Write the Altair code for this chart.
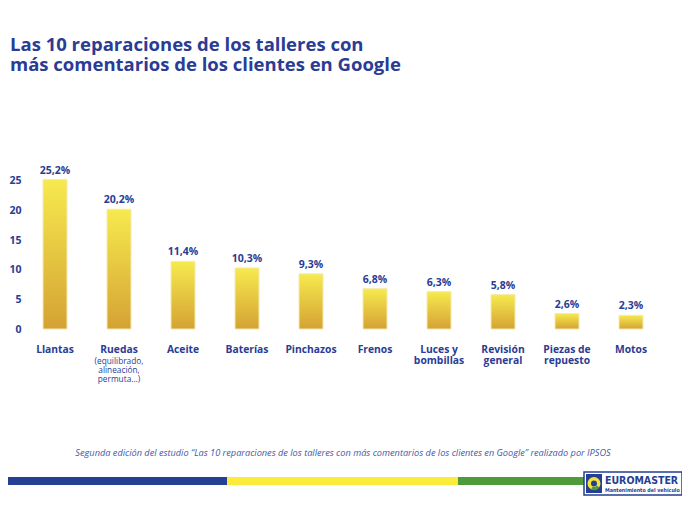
import altair as alt
import pandas as pd

# ---- data ----
categories = ["Llantas", "Ruedas", "Aceite", "Baterías", "Pinchazos", "Frenos",
              "Luces y|bombillas", "Revisión|general", "Piezas de|repuesto", "Motos"]
values = [25.2, 20.2, 11.4, 10.3, 9.3, 6.8, 6.3, 5.8, 2.6, 2.3]
y_ticks = [0, 5, 10, 15, 20, 25]
ruedas_note = "(equilibrado,|alineación,|permuta...)"
title_lines = ["Las 10 reparaciones de los talleres con",
               "más comentarios de los clientes en Google"]
footnote = ("Segunda edición del estudio \u201cLas 10 reparaciones de los talleres con más "
            "comentarios de los clientes en Google\u201d realizado por IPSOS")
logo_main = "EUROMASTER"
logo_sub = "Mantenimiento del vehículo"

labels = [f"{v:.1f}".replace(".", ",") + "%" for v in values]
df = pd.DataFrame({"cat": categories, "val": values, "lab": labels})
one = pd.DataFrame({"k": [0]})

W, H = 640, 166
BLUE = "#2a3c94"
FONT = "Open Sans"

x_enc = alt.X("cat:N", sort=None, title=None,
              scale=alt.Scale(paddingOuter=0, paddingInner=0),
              axis=alt.Axis(labelExpr="split(datum.label, '|')", labelAngle=0,
                            labelFontSize=10.3, labelFontWeight="bold", labelColor=BLUE,
                            labelFont=FONT, labelLineHeight=11.3, labelPadding=15,
                            labelOverlap=False, domain=False, ticks=False,
                            labelBaseline="top"))
y_enc = alt.Y("val:Q", title=None,
              scale=alt.Scale(domain=[0, 28], nice=False),
              axis=alt.Axis(values=y_ticks, tickCount=6, grid=False, domain=False,
                            ticks=False, labelOverlap=False, labelFontSize=10.5,
                            labelFontWeight="bold", labelColor=BLUE, labelFont=FONT,
                            labelPadding=2))

grad = alt.Gradient(gradient="linear",
                    stops=[alt.GradientStop(color="#f6ea4e", offset=0),
                           alt.GradientStop(color="#d5a234", offset=1)],
                    x1=0, x2=0, y1=0, y2=1)

bars = alt.Chart(df).mark_bar(size=24, color=grad, stroke="#f5eab0",
                              strokeWidth=1).encode(x=x_enc, y=y_enc)

bar_labels = alt.Chart(df).mark_text(baseline="bottom", dy=-4, fontSize=10.5,
                                     fontWeight="bold", color=BLUE, font=FONT).encode(
    x=x_enc, y=y_enc, text="lab:N")

note = alt.Chart(df[df["cat"] == "Ruedas"]).mark_text(
    baseline="top", lineBreak="|", lineHeight=9, fontSize=8.3, color=BLUE, font=FONT
).encode(x=x_enc, y=alt.value(H + 28), text=alt.value(ruedas_note))

title = alt.Chart(one).mark_text(align="left", baseline="alphabetic", fontSize=18.5,
                                 lineHeight=20, fontWeight="bold", color=BLUE, font=FONT,
                                 text="|".join(title_lines), lineBreak="|"
                                 ).encode(x=alt.value(-13), y=alt.value(-112))

foot = alt.Chart(one).mark_text(align="center", baseline="middle", fontSize=9.2,
                                fontStyle="italic", color="#4158a8", font=FONT, text=footnote
                                ).encode(x=alt.value(W / 2), y=alt.value(290))

stripe_blue = alt.Chart(one).mark_rect(color="#243f93").encode(
    x=alt.value(-15), x2=alt.value(204), y=alt.value(314), y2=alt.value(322))
stripe_yellow = alt.Chart(one).mark_rect(color="#fbec3a").encode(
    x=alt.value(204), x2=alt.value(435), y=alt.value(314), y2=alt.value(322))
stripe_green = alt.Chart(one).mark_rect(color="#4f9a3a").encode(
    x=alt.value(435), x2=alt.value(659), y=alt.value(314), y2=alt.value(322))

logo_box = alt.Chart(one).mark_rect(fill="white", stroke="#243f93", strokeWidth=1.5).encode(
    x=alt.value(561), x2=alt.value(659), y=alt.value(309), y2=alt.value(332))
logo_sq = alt.Chart(one).mark_rect(color="#243f93").encode(
    x=alt.value(563), x2=alt.value(579), y=alt.value(311), y2=alt.value(330))
logo_ring = alt.Chart(one).mark_point(filled=False, shape="circle", size=90, strokeWidth=3.5,
                                      color="#f4e23a", opacity=1).encode(
    x=alt.value(571), y=alt.value(320.5))
logo_green = alt.Chart(one).mark_arc(color="#4f9a3a", radius=6.5, radius2=3.5,
                                     theta=2.2, theta2=3.6).encode(
    x=alt.value(571), y=alt.value(320.5))
logo_t1 = alt.Chart(one).mark_text(align="left", baseline="alphabetic", fontSize=10.5,
                                   fontWeight="bold", color="#243f93",
                                   font="DejaVu Sans Condensed", text=logo_main).encode(
    x=alt.value(582), y=alt.value(321))
logo_t2 = alt.Chart(one).mark_text(align="left", baseline="alphabetic", fontSize=5.3,
                                   fontWeight="bold", color="#243f93",
                                   font="DejaVu Sans Condensed", text=logo_sub).encode(
    x=alt.value(582), y=alt.value(328.5))

chart = alt.layer(
    bars, bar_labels, note, title, foot,
    stripe_blue, stripe_yellow, stripe_green,
    logo_box, logo_sq, logo_ring, logo_green, logo_t1, logo_t2
).properties(
    width=W, height=H,
    autosize=alt.AutoSizeParams(type="none"),
    padding={"left": 15, "top": 155, "right": 19, "bottom": 180},
    background="white"
).configure_view(strokeWidth=0)

chart.save("out.html", embed_options={"renderer": "svg", "actions": False})
